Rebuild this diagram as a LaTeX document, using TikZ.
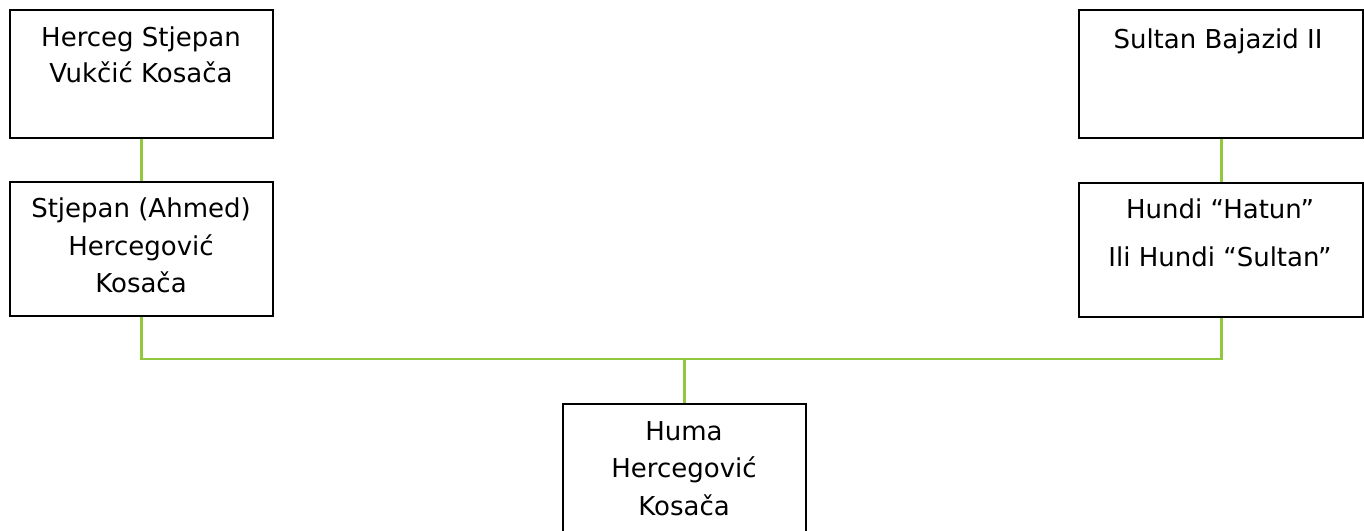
\documentclass[tikz,border=0pt]{standalone}
\usepackage{fontspec}
\setmainfont{DejaVu Sans}
\begin{document}
\begin{tikzpicture}[x=0.75pt,y=-0.75pt,
  box/.style={draw=black,line width=1.6pt,rectangle,inner sep=0pt,anchor=north west},
  link/.style={draw=lime,line width=2.2pt},
  txt/.style={anchor=base,inner sep=0pt,font=\fontsize{19.5}{23}\selectfont}]
\definecolor{lime}{HTML}{92C83E}
\useasboundingbox (0,0) rectangle (1364,531);
\clip (0,0) rectangle (1364,531);
% boxes
\node[box,minimum width=263*0.75pt,minimum height=128*0.75pt] (b1) at (9,9) {};
\node[box,minimum width=263*0.75pt,minimum height=134*0.75pt] (b2) at (9,181) {};
\node[box,minimum width=284*0.75pt,minimum height=128*0.75pt] (b3) at (1078,9) {};
\node[box,minimum width=284*0.75pt,minimum height=134*0.75pt] (b4) at (1078,182) {};
\node[box,minimum width=243*0.75pt,minimum height=160*0.75pt] (b5) at (562,403) {};
% texts
\node[txt] (t1a) at (141,47) {Herceg Stjepan};
\node[txt] (t1b) at (141,83) {Vukčić Kosača};
\node[txt] (t2a) at (141,218) {Stjepan (Ahmed)};
\node[txt] (t2b) at (141,255) {Hercegović};
\node[txt] (t2c) at (141,292) {Kosača};
\node[txt] (t3a) at (1218,49) {Sultan Bajazid II};
\node[txt] (t4a) at (1220,219) {Hundi “Hatun”};
\node[txt] (t4b) at (1220,267) {Ili Hundi “Sultan”};
\node[txt] (t5a) at (684,440) {Huma};
\node[txt] (t5b) at (684,477) {Hercegović};
\node[txt] (t5c) at (684,515) {Kosača};
% connectors
\coordinate (j3) at (b5.north |- 0,359);
\draw[link] (b1.south) -- (b2.north);
\draw[link] (b3.south) -- (b4.north);
\draw[link] (b2.south) |- (j3) -| (b4.south);
\draw[link] (j3) -- (b5.north);
\end{tikzpicture}
\end{document}
